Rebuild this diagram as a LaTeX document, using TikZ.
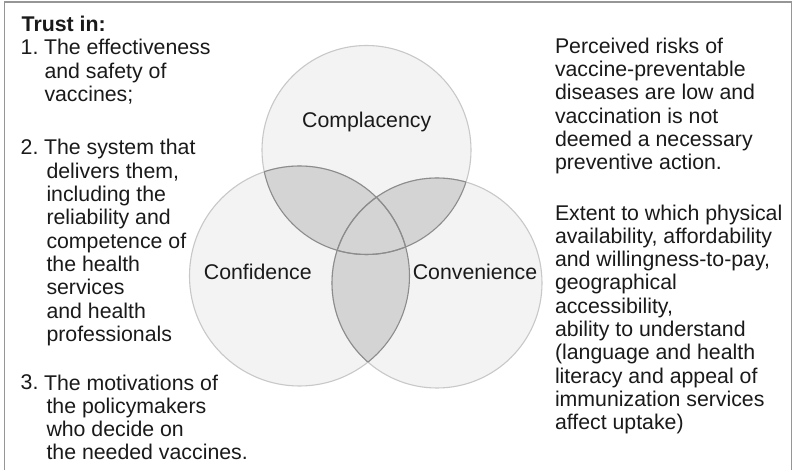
\documentclass[tikz,border=0pt]{standalone}
\usepackage{fontspec}
\setmainfont{Liberation Sans}
\usepackage{xcolor}
\usepackage{tikz}

\tikzset{
  labelText/.style={text=textColor,inner sep=0pt,outer sep=0pt,font=\fontsize{21.3}{23.3}\selectfont},
  % multi-line nodes: base is the baseline of the last line
  bodyText/.style={labelText,anchor=base west,align=left},
  ringFill/.style={fill=fillColor,draw=edgeColor,line width=1.1pt},
  lensLine/.style={draw=lensEdge,line width=1.1pt},
}

\begin{document}
\begin{tikzpicture}[x=1pt,y=-1pt]
\definecolor{textColor}{RGB}{26,26,26}
\definecolor{frameColor}{RGB}{150,150,150}
\definecolor{fillColor}{RGB}{243,243,243}
\definecolor{edgeColor}{RGB}{200,200,200}
\definecolor{lensColor}{RGB}{212,212,212}
\definecolor{lensEdge}{RGB}{140,140,140}
\path[use as bounding box,fill=white] (0,0) rectangle (793,470);

% frame, open at the bottom
\draw[frameColor,line width=1.5pt] (4.5,470) -- (4.5,1.8) -- (791.5,1.8) -- (791.5,470);

% circle centres
\coordinate (cmp) at (366.5,150.0);
\coordinate (cnf) at (299.5,276.0);
\coordinate (cnv) at (437.0,283.0);

\path[ringFill] (cmp) circle[radius=104.5pt];
\path[ringFill] (cnf) circle[radius=110.0pt];
\path[ringFill] (cnv) circle[radius=105.0pt];

% pairwise overlaps
\begin{scope}
\clip (cmp) circle[radius=104.5pt];
\fill[lensColor] (cnf) circle[radius=110.0pt];
\fill[lensColor] (cnv) circle[radius=105.0pt];
\end{scope}
\begin{scope}
\clip (cnf) circle[radius=110.0pt];
\fill[lensColor] (cnv) circle[radius=105.0pt];
\end{scope}

% darker arcs inside the other circles
\begin{scope}
\clip (cmp) circle[radius=104.5pt];
\path[lensLine] (cnf) circle[radius=110.0pt];
\path[lensLine] (cnv) circle[radius=105.0pt];
\end{scope}
\begin{scope}
\clip (cnf) circle[radius=110.0pt];
\path[lensLine] (cmp) circle[radius=104.5pt];
\path[lensLine] (cnv) circle[radius=105.0pt];
\end{scope}
\begin{scope}
\clip (cnv) circle[radius=105.0pt];
\path[lensLine] (cmp) circle[radius=104.5pt];
\path[lensLine] (cnf) circle[radius=110.0pt];
\end{scope}

\node[labelText,anchor=base] (cmpLabel) at (366.7,128.0) {Complacency};
\node[labelText,anchor=base] (cnfLabel) at (257.8,280.0) {Confidence};
\node[labelText,anchor=base] (cnvLabel) at (475.0,280.0) {Convenience};

% trust list
\node[bodyText] (trustHead) at (21.7,31.7) {\bfseries Trust in:};
\node[bodyText] (numOne) at (20.7,55.0) {1.};
\node[bodyText] (itemOne) at (44.0,101.6) {The effectiveness\\
  \hspace*{0.5pt}and safety of\\
  \hspace*{0.5pt}vaccines;};
\node[bodyText] (numTwo) at (20.7,155.0) {2.};
\node[bodyText] (itemTwo) at (44.0,341.4) {The system that\\
  \hspace*{2.5pt}delivers them,\\
  \hspace*{2.5pt}including the\\
  \hspace*{2.5pt}reliability and\\
  \hspace*{2.5pt}competence of\\
  \hspace*{2.5pt}the health\\
  \hspace*{2.5pt}services\\
  \hspace*{2.5pt}and health\\
  \hspace*{2.5pt}professionals};
\node[bodyText] (numThree) at (20.7,390.0) {3.};
\node[bodyText] (itemThree) at (44.0,459.9) {The motivations of\\
  \hspace*{2.5pt}the policymakers\\
  \hspace*{2.5pt}who decide on\\
  \hspace*{2.5pt}the needed vaccines.};

% right-hand notes
\node[bodyText] (cmpNote) at (555.0,169.8) {Perceived risks of\\vaccine-preventable\\diseases are low and\\vaccination is not\\deemed a necessary\\preventive action.};
\node[bodyText] (cnvNote) at (555.0,429.7) {Extent to which physical\\availability, affordability\\and willingness-to-pay,\\geographical\\accessibility,\\ability to understand\\(language and health\\literacy and appeal of\\immunization services\\affect uptake)};
\end{tikzpicture}
\end{document}
